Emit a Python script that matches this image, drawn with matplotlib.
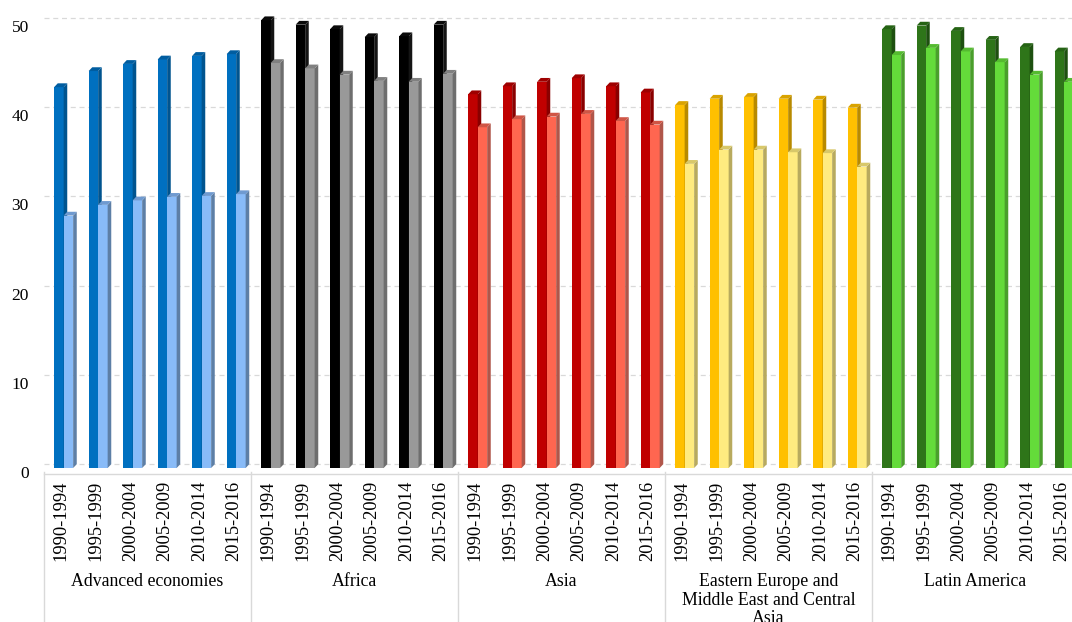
import matplotlib
matplotlib.use("Agg")
import matplotlib.pyplot as plt
import matplotlib.transforms as mtransforms
from matplotlib.patches import Polygon
import numpy as np

plt.rcParams['font.family'] = ['Liberation Serif', 'DejaVu Serif']

# ---------------- data ----------------
groups = ["Advanced economies", "Africa", "Asia",
          "Eastern Europe and\nMiddle East and Central\nAsia", "Latin America"]
periods = ["1990-1994", "1995-1999", "2000-2004", "2005-2009", "2010-2014", "2015-2016"]

adv_dark = [42.7, 44.5, 45.3, 45.8, 46.2, 46.4]
adv_light = [28.3, 29.5, 30.0, 30.4, 30.5, 30.7]
afr_dark = [50.2, 49.7, 49.2, 48.3, 48.4, 49.7]
afr_light = [45.4, 44.8, 44.1, 43.4, 43.3, 44.2]
asia_dark = [41.9, 42.8, 43.3, 43.7, 42.8, 42.1]
asia_light = [38.2, 39.1, 39.4, 39.7, 38.9, 38.5]
eeme_dark = [40.7, 41.4, 41.6, 41.4, 41.3, 40.4]
eeme_light = [34.1, 35.7, 35.7, 35.4, 35.3, 33.8]
latam_dark = [49.2, 49.6, 49.0, 48.0, 47.2, 46.7]
latam_light = [46.3, 47.1, 46.7, 45.5, 44.1, 43.3]

dark_series = [adv_dark, afr_dark, asia_dark, eeme_dark, latam_dark]
light_series = [adv_light, afr_light, asia_light, eeme_light, latam_light]

# (front, side, top) colours per group
dark_colors = [("#0070C0", "#00548F", "#005DA0"),
               ("#000000", "#151515", "#0A0A0A"),
               ("#C00000", "#8A0000", "#9E0000"),
               ("#FFC000", "#B88A00", "#D9A300"),
               ("#2E7519", "#1E5010", "#256314")]
light_colors = [("#88BBF8", "#5D7FA6", "#6F9AD0"),
                ("#999999", "#6E6E6E", "#808080"),
                ("#FF6650", "#B0564A", "#D05545"),
                ("#FFEB80", "#B8AA5E", "#D8C86A"),
                ("#64DB3A", "#4A9F2C", "#55BB30")]

y_ticks = [0, 10, 20, 30, 40, 50]

# ---------------- layout ----------------
W, H, DPI = 1072, 622, 100
fig = plt.figure(figsize=(W / DPI, H / DPI), dpi=DPI)
x_left_px, x_right_px = 44, 1079
y_zero_px = 468
px_per_unit = 8.92
ymax = 52
top_px = y_zero_px - ymax * px_per_unit
ax = fig.add_axes([x_left_px / W, (H - y_zero_px) / H,
                   (x_right_px - x_left_px) / W, (y_zero_px - top_px) / H])
ax.set_xlim(-0.5, 29.5)
ax.set_ylim(0, ymax)

n_cat = len(groups) * len(periods)
px_per_cat = (x_right_px - x_left_px) / n_cat
dx = 3.6 / px_per_cat       # depth in x data units
dy = 3.8 / px_per_unit      # depth in y data units
bw = 9.5 / px_per_cat       # front face width
dark_off = -7.1 / px_per_cat

# gridlines on back wall
for v in y_ticks:
    ax.axhline(v + 4.0 / px_per_unit, color="#D9D9D9", lw=0.9,
               dashes=(4, 3), zorder=0)


def draw_bar(x0, h, cols, z):
    front, side, top = cols
    ax.bar(x0, h, width=bw, align="edge", color=front, lw=0, zorder=z)
    x1 = x0 + bw
    ax.add_patch(Polygon([(x1, 0), (x1 + dx, dy), (x1 + dx, h + dy), (x1, h)],
                         closed=True, facecolor=side, lw=0, zorder=z))
    ax.add_patch(Polygon([(x0, h), (x1, h), (x1 + dx, h + dy), (x0 + dx, h + dy)],
                         closed=True, facecolor=top, lw=0, zorder=z))


xpos = np.arange(n_cat)
k = 0
for g in range(len(groups)):
    for p in range(len(periods)):
        xc = xpos[k]
        xd = xc + dark_off
        draw_bar(xd, dark_series[g][p], dark_colors[g], 2 + k * 0.01)
        draw_bar(xd + bw, light_series[g][p], light_colors[g], 2.005 + k * 0.01)
        k += 1

# axes styling
for s in ["top", "right", "left"]:
    ax.spines[s].set_visible(False)
ax.spines["bottom"].set_position(("outward", 4))
ax.spines["bottom"].set_color("#D9D9D9")
ax.spines["bottom"].set_linewidth(1.0)

ax.set_yticks(y_ticks)
ax.set_yticklabels([str(v) for v in y_ticks], fontsize=12.5)
ax.tick_params(axis="y", length=0, pad=11)
for lab in ax.get_yticklabels():
    lab.set_transform(lab.get_transform() +
                      mtransforms.ScaledTranslation(0, -4 / DPI, fig.dpi_scale_trans))

ax.set_xticks(xpos)
ax.set_xticklabels(periods * len(groups), rotation=90, fontsize=13.3)
ax.tick_params(axis="x", length=0, pad=5)

# group separators and labels
blend = mtransforms.blended_transform_factory(ax.transData, fig.transFigure)
axis_y = (H - 472) / H
for i in range(len(groups) + 1):
    xs = i * len(periods) - 0.5
    ax.plot([xs, xs], [axis_y, 0], transform=blend, color="#D9D9D9",
            lw=1.0, clip_on=False)
for i, g in enumerate(groups):
    xc = i * len(periods) + (len(periods) - 1) / 2
    ax.text(xc, (H - 573) / H, g, transform=blend, ha="center", va="top",
            fontsize=12.8, linespacing=1.12, multialignment="center")

fig.savefig("out.png", dpi=DPI)
